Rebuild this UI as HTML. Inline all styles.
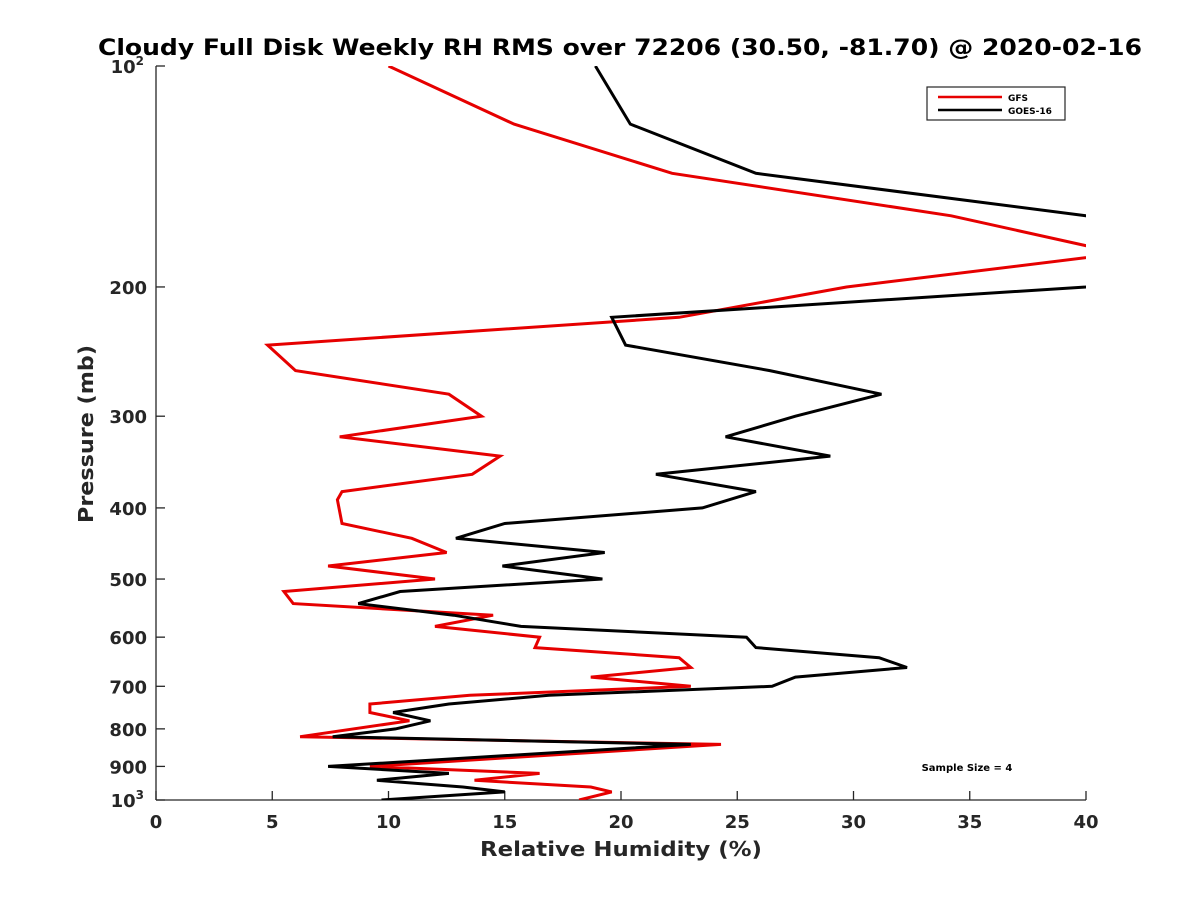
<!DOCTYPE html>
<html><head><meta charset="utf-8"><style>
html,body{margin:0;padding:0;background:#fff;}
svg{display:block;font-family:"DejaVu Sans","Liberation Sans",sans-serif;}
</style></head><body>
<svg id="chart" width="1200" height="900" viewBox="0 0 1200 900">
<defs><clipPath id="plotclip"><rect x="156" y="66" width="930" height="734"/></clipPath></defs>
<text x="620" y="55" text-anchor="middle" font-size="22" font-weight="bold" textLength="1044" lengthAdjust="spacingAndGlyphs">Cloudy Full Disk Weekly RH RMS over 72206 (30.50, -81.70) @ 2020-02-16</text>
<g id="axes"></g>
<g id="series" clip-path="url(#plotclip)"></g>
<text x="621" y="856" text-anchor="middle" font-size="20" font-weight="bold" fill="#262626" textLength="282" lengthAdjust="spacingAndGlyphs">Relative Humidity (%)</text>
<text transform="translate(93,434) rotate(-90)" text-anchor="middle" font-size="20" font-weight="bold" fill="#262626" textLength="178" lengthAdjust="spacingAndGlyphs">Pressure (mb)</text>
<g>
<rect x="927" y="87" width="138" height="33" fill="#fff" stroke="#262626" stroke-width="1.2"/>
<line x1="938" y1="97" x2="1002" y2="97" stroke="#e60000" stroke-width="2.5"/>
<text x="1008" y="101" font-size="9" font-weight="bold">GFS</text>
<line x1="938" y1="110" x2="1002" y2="110" stroke="#000" stroke-width="2.5"/>
<text x="1008" y="114" font-size="9" font-weight="bold">GOES-16</text>
</g>
<text x="967" y="771" text-anchor="middle" font-size="10" font-weight="bold">Sample Size = 4</text>
</svg>
<script>
const gfsRH=[10.0,15.4,22.2,34.2,41.5,29.7,22.5,4.8,6.0,12.6,14.0,7.9,14.8,13.6,8.0,7.8,8.0,11.0,12.5,7.4,12.0,5.5,5.9,14.5,12.0,16.5,16.3,22.5,23.0,18.7,23.0,13.5,9.2,9.2,10.9,6.2,24.3,9.2,16.5,13.7,18.7,19.6,18.2];
const gfsP=[100,120,140,160,180,200,220,240,260,280,300,320,340,360,380,390,420,440,460,480,500,520,540,560,580,600,620,640,660,680,700,720,740,760,780,820,840,900,920,940,960,975,1000];
const goesRH=[18.9,20.4,25.8,40,45,40,19.6,20.2,26.4,31.2,27.5,24.5,29.0,21.5,25.8,23.5,15.0,12.9,19.3,14.9,19.2,10.5,8.7,12.8,15.7,25.4,25.8,31.1,32.3,27.5,26.5,16.9,12.6,10.2,11.8,10.3,7.6,23.0,7.4,12.6,9.5,13.2,15.0,9.7];
const goesP=[100,120,140,160,180,200,220,240,260,280,300,320,340,360,380,400,420,440,460,480,500,520,540,560,580,600,620,640,660,680,700,720,740,760,780,800,820,840,900,920,940,960,975,1000];
const xTicks=[0,5,10,15,20,25,30,35,40];
const yTicks=[200,300,400,500,600,700,800,900];
const NS='http://www.w3.org/2000/svg';
const X0=156,X1=1086,Y0=66,Y1=800;
function xs(v){return X0+(v-0)/40*(X1-X0);}
function ys(p){return Y0+Math.log10(p/100)*(Y1-Y0);}
function mk(tag,attrs,parent){const e=document.createElementNS(NS,tag);for(const k in attrs)e.setAttribute(k,attrs[k]);parent.appendChild(e);return e;}
const axes=document.getElementById('axes');
let a=mk('line',{x1:X0,y1:Y0,x2:X0,y2:Y1,stroke:'#262626','stroke-width':1.3},axes);


a=mk('line',{x1:X0,y1:Y1,x2:X1,y2:Y1,stroke:'#262626','stroke-width':1.3},axes);


xTicks.forEach(v=>{
 const t=mk('line',{x1:xs(v),y1:Y1,x2:xs(v),y2:Y1-9,stroke:'#262626','stroke-width':1.3},axes);
 
 
 const l=mk('text',{x:xs(v),y:Y1+28,'text-anchor':'middle','font-size':18,'font-weight':'bold',fill:'#262626'},axes);
 l.textContent=v;
 
 
});
[100,1000].concat(yTicks).forEach(p=>{
 const t=mk('line',{x1:X0,y1:ys(p),x2:X0+9,y2:ys(p),stroke:'#262626','stroke-width':1.3},axes);
 
 
});
yTicks.forEach(p=>{
 const l=mk('text',{x:X0-9,y:ys(p)+7,'text-anchor':'end','font-size':18,'font-weight':'bold',fill:'#262626'},axes);
 l.textContent=p;
 
 
});
[[100,'2'],[1000,'3']].forEach(([p,e])=>{
 const l=mk('text',{x:X0-12,y:ys(p)+7,'text-anchor':'end','font-size':18,'font-weight':'bold',fill:'#262626'},axes);
 l.textContent='10';
 const s=mk('tspan',{dy:-8,'font-size':12},l);s.textContent=e;
 
 
});
const sg=document.getElementById('series');
function drawLine(rh,p,color,name){
 const pts=rh.map((v,i)=>xs(v).toFixed(1)+','+ys(p[i]).toFixed(1)).join(' ');
 const pl=mk('polyline',{points:pts,fill:'none',stroke:color,'stroke-width':3,'stroke-linejoin':'miter'},sg);
 
 
}
drawLine(gfsRH,gfsP,'#e60000','gfs-line');
drawLine(goesRH,goesP,'#000','goes-16-line');
</script>
</body></html>
